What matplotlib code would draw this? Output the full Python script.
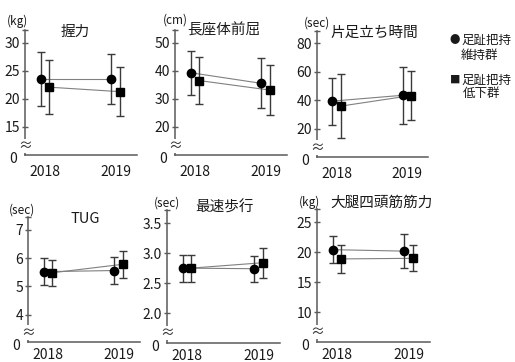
import matplotlib
matplotlib.use("Agg")
import matplotlib.pyplot as plt
import matplotlib.transforms as mtransforms

plt.rcParams['font.family'] = ['Noto Sans CJK JP', 'DejaVu Sans']

years = ["2018", "2019"]
titles = ["握力", "長座体前屈", "片足立ち時間", "TUG", "最速歩行", "大腿四頭筋筋力"]
units = ["(kg)", "(cm)", "(sec)", "(sec)", "(sec)", "(kg)"]
yticks = [[15, 20, 25, 30], [20, 30, 40, 50], [20, 40, 60, 80],
          [4, 5, 6, 7], [2.0, 2.5, 3.0, 3.5], [10, 15, 20, 25]]
ytick_labels = [["15", "20", "25", "30"], ["20", "30", "40", "50"], ["20", "40", "60", "80"],
                ["4", "5", "6", "7"], ["2.0", "2.5", "3.0", "3.5"], ["10", "15", "20", "25"]]
ylims = [(10, 32.3), (10, 54.5), (0, 88.6), (3.05, 7.44), (1.5, 3.72), (5, 27.25)]

# 足趾把持力維持群 (circle)
maintain_mean = [[23.6, 23.6], [39.3, 35.5], [39.3, 43.4], [5.52, 5.56], [2.75, 2.74], [20.45, 20.2]]
maintain_sd = [[4.8, 4.45], [7.8, 8.9], [16.45, 19.85], [0.475, 0.49], [0.225, 0.22], [2.2, 2.8]]
# 足趾把持力低下群 (square)
decline_mean = [[22.1, 21.3], [36.5, 33.1], [35.8, 43.2], [5.48, 5.78], [2.75, 2.84], [18.9, 19.0]]
decline_sd = [[4.85, 4.4], [8.5, 8.95], [22.6, 17.25], [0.465, 0.47], [0.225, 0.25], [2.4, 2.15]]

legend_symbols = ["●", "■"]
legend_labels = [("足趾把持", "維持群"), ("足趾把持", "低下群")]

W, H = 515, 362
fig = plt.figure(figsize=(W / 100, H / 100), dpi=100)

# panel boxes in pixels: left, right, top, bottom
boxes = [(25, 137, 30, 155), (175, 287, 30, 155), (317, 428, 31, 157),
         (28, 140, 217, 342), (167, 280, 210, 343), (317, 430, 209, 342)]
xpads = [7, 7, 7, 4, 4, 4]
title_pos = [(75, 32), (224, 30), (374, 33), (85, 219), (225, 208), (382, 203)]
unit_pos = [(18, 21), (175, 20), (317, 23), (22, 210), (167, 203), (310, 202)]

axis_col = "#5a5a5a"
err_col = "#3a3a3a"
txt_col = "#1a1a1a"
off = 0.06

for i in range(6):
    l, r, t, b = boxes[i]
    ax = fig.add_axes([l / W, 1 - b / H, (r - l) / W, (b - t) / H])
    xs = [0, 1]
    ax.plot([x - off for x in xs], maintain_mean[i], color="#808080", lw=0.8, zorder=2)
    ax.plot([x + off for x in xs], decline_mean[i], color="#808080", lw=0.8, zorder=2)
    ax.errorbar([x - off for x in xs], maintain_mean[i], yerr=maintain_sd[i], fmt='o',
                color='black', ecolor=err_col, elinewidth=1.0, capsize=3, capthick=1.0,
                markersize=6, zorder=3)
    ax.errorbar([x + off for x in xs], decline_mean[i], yerr=decline_sd[i], fmt='s',
                color='black', ecolor=err_col, elinewidth=1.0, capsize=3, capthick=1.0,
                markersize=5.2, zorder=3)
    ax.set_xlim(-0.28, 1.30)
    ax.set_ylim(*ylims[i])
    ax.set_xticks(xs)
    ax.set_xticklabels(years, fontsize=10, color=txt_col)
    ax.set_yticks(yticks[i])
    ax.set_yticklabels(ytick_labels[i], fontsize=10, color=txt_col)
    ax.set_yticks([ylims[i][1]], minor=True)
    ax.tick_params(axis='x', length=0, pad=xpads[i])
    ax.tick_params(axis='y', which='both', direction='inout', length=5, width=1,
                   color=axis_col, pad=1)
    for s in ['top', 'right']:
        ax.spines[s].set_visible(False)
    for s in ['left', 'bottom']:
        ax.spines[s].set_color(axis_col)
        ax.spines[s].set_linewidth(1.1)
    # zero label
    ax.annotate("0", xy=(0, 0), xycoords='axes fraction', xytext=(-6, -3),
                textcoords='offset points', ha='right', va='center', fontsize=10,
                color=txt_col)
    # axis break symbol
    lo = ylims[i][0]
    step = yticks[i][1] - yticks[i][0]
    trans = mtransforms.blended_transform_factory(ax.transAxes, ax.transData)
    ax.text(0, lo + 0.33 * step, "≈", transform=trans, ha='center', va='center',
            fontsize=10, color="#333333", zorder=5, clip_on=False,
            bbox=dict(facecolor='white', edgecolor='none', pad=0.1))
    fig.text(title_pos[i][0] / W, 1 - title_pos[i][1] / H, titles[i], ha='center',
             va='center', fontsize=10.5, color=txt_col)
    fig.text(unit_pos[i][0] / W, 1 - unit_pos[i][1] / H, units[i], ha='center',
             va='center', fontsize=8.5, color=txt_col)

# legend (manual, as in the reference)
leg_y = [40, 80]
sub_x = [461, 463]
sub_y = [56, 94]
for k in range(2):
    fig.text(455 / W, 1 - leg_y[k] / H, legend_symbols[k], ha='center', va='center',
             fontsize=7.5, color=txt_col)
    fig.text(461 / W, 1 - leg_y[k] / H, legend_labels[k][0], ha='left', va='center',
             fontsize=9, color=txt_col)
    fig.text(sub_x[k] / W, 1 - sub_y[k] / H, legend_labels[k][1], ha='left', va='center',
             fontsize=9, color=txt_col)

fig.savefig("out.png", dpi=100)
